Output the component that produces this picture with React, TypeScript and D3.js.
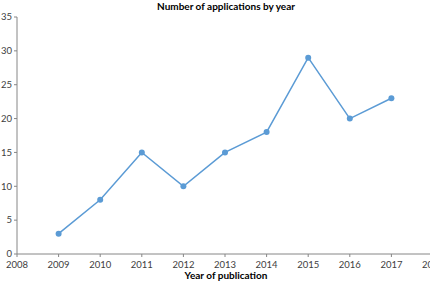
import React from "react";
import * as d3 from "d3";

const years = [2009, 2010, 2011, 2012, 2013, 2014, 2015, 2016, 2017];
const applications = [3, 8, 15, 10, 15, 18, 29, 20, 23];
const xTicks = [2008, 2009, 2010, 2011, 2012, 2013, 2014, 2015, 2016, 2017, 2018];
const yTicks = [0, 5, 10, 15, 20, 25, 30, 35];
const title = "Number of applications by year";
const xTitle = "Year of publication";

const W = 430;
const H = 283;
const FONT = "Lato, 'Open Sans', sans-serif";
const COLOR = "#5B9BD5";
const AXIS = "#868686";
const TEXT = "#404040";

export default function App() {
  const x = d3.scaleLinear().domain([2008, 2018]).range([17, 433]);
  const y = d3.scaleLinear().domain([0, 35]).range([254, 17]);
  const line = d3
    .line<number>()
    .x((_, i) => x(years[i]))
    .y((d) => y(d));

  return (
    <svg
      width={W}
      height={H}
      style={{ position: "absolute", left: 0, top: 0, background: "#fff" }}
    >
      <text
        x={226}
        y={9.5}
        textAnchor="middle"
        fontFamily={FONT}
        fontWeight="bold"
        fontSize={10}
        fill="#000"
      >
        {title}
      </text>
      {/* y axis */}
      <line x1={x(2008)} x2={x(2008)} y1={y(35)} y2={y(0)} stroke={AXIS} strokeWidth={1} />
      {yTicks.map((t) => (
        <g key={t}>
          <line x1={x(2008) - 3} x2={x(2008)} y1={y(t)} y2={y(t)} stroke={AXIS} />
          <text
            x={x(2008) - 5}
            y={y(t)}
            dy="0.35em"
            textAnchor="end"
            fontFamily={FONT}
            fontSize={9.5}
            fill={TEXT}
          >
            {t}
          </text>
        </g>
      ))}
      {/* x axis */}
      <line x1={x(2008)} x2={W} y1={y(0)} y2={y(0)} stroke={AXIS} strokeWidth={1} />
      {xTicks.map((t) => (
        <g key={t}>
          <line x1={x(t)} x2={x(t)} y1={y(0)} y2={y(0) + 3} stroke={AXIS} />
          <text
            x={x(t)}
            y={y(0) + 14}
            textAnchor="middle"
            fontFamily={FONT}
            fontSize={9.5}
            fill={TEXT}
          >
            {t}
          </text>
        </g>
      ))}
      <text
        x={226}
        y={279}
        textAnchor="middle"
        fontFamily={FONT}
        fontWeight="bold"
        fontSize={10}
        fill="#000"
      >
        {xTitle}
      </text>
      <path d={line(applications) || ""} fill="none" stroke={COLOR} strokeWidth={1.5} />
      {applications.map((v, i) => (
        <circle key={i} cx={x(years[i])} cy={y(v)} r={3} fill={COLOR} />
      ))}
    </svg>
  );
}
